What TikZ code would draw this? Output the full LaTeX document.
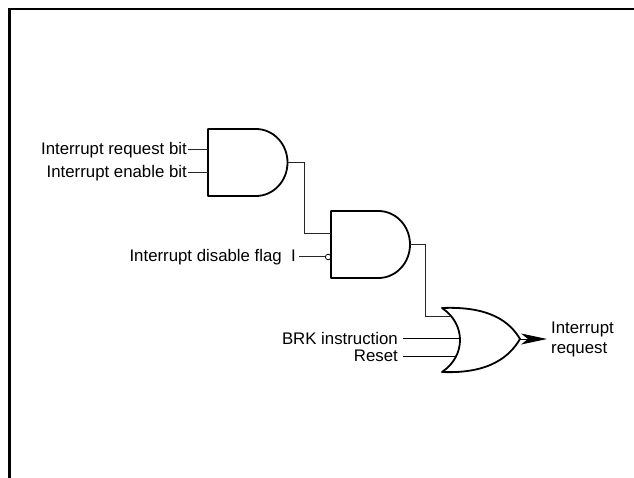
\documentclass[tikz,border=0pt]{standalone}
\usepackage{fontspec}
\setmainfont{Liberation Sans}
\usetikzlibrary{arrows.meta}
\begin{document}
\begin{tikzpicture}[x=1pt,y=-1pt,
  lbl/.style={font=\fontsize{16.8}{20}\selectfont, inner sep=0pt},
  gate/.style={line width=1.8pt, line join=round},
  wire/.style={line width=1pt, draw=black!85},
  frame/.style={line width=2.5pt}]
\useasboundingbox (0,0) rectangle (634,478);
\draw[frame] (9.7,482) -- (9.7,9.2) -- (638,9.2);

% AND gate 1
\draw[gate] (208,129) -- (256,129) arc[start angle=-90,end angle=90,x radius=31.5,y radius=33.5] -- (208,196) -- cycle;
\coordinate (g1a) at (208,150);
\coordinate (g1b) at (208,173);
\coordinate (g1o) at (287.5,162.5);

% AND gate 2
\draw[gate] (331,211) -- (378.5,211) arc[start angle=-90,end angle=90,x radius=31.5,y radius=33.5] -- (331,278) -- cycle;
\coordinate (g2a) at (331,234);
\coordinate (g2o) at (410,244.5);
\draw[line width=0.8pt] (328.2,257) circle[radius=2.8];
\coordinate (g2b) at (325.4,257);

% OR gate
\draw[gate] (442,308) .. controls (490,306) and (510,322) .. (520,339)
  .. controls (510,356) and (490,374) .. (442,372)
  .. controls (466,356) and (466,324) .. cycle;
\coordinate (ora) at (451,316);
\coordinate (orb) at (460,338);
\coordinate (orc) at (456,356);
\coordinate (oro) at (520,339);
\coordinate (out) at (547,339);

% labels
\node[lbl, anchor=east] (l1) at (187,150) {Interrupt request bit};
\node[lbl, anchor=east] (l2) at (187,173) {Interrupt enable bit};
\node[lbl, anchor=east] (l3) at (296,257) {Interrupt disable flag\ \ I};
\node[lbl, anchor=east] (l4) at (398,338) {BRK instruction};
\node[lbl, anchor=east] (l5) at (398,356) {Reset};
\node[lbl, anchor=west, align=left] (l6) at (551,339) {Interrupt\\request};

% wires
\draw[wire] ([xshift=1pt]l1.east) -- (g1a);
\draw[wire] ([xshift=1pt]l2.east) -- (g1b);
\draw[wire] ([xshift=3pt]l3.east) -- (g2b);
\draw[wire] (g1o) -- ++(16.5,0) |- (g2a);
\draw[wire] (g2o) -- ++(15,0) |- (ora);
\draw[wire,draw=black] ([xshift=5pt]l4.east) -- (orb);
\draw[wire,draw=black] ([xshift=5pt]l5.east) -- (orc);
\draw[line width=1pt, -{Stealth[length=26pt,width=11pt,inset=7pt]}] (oro) -- (out);
\end{tikzpicture}
\end{document}
